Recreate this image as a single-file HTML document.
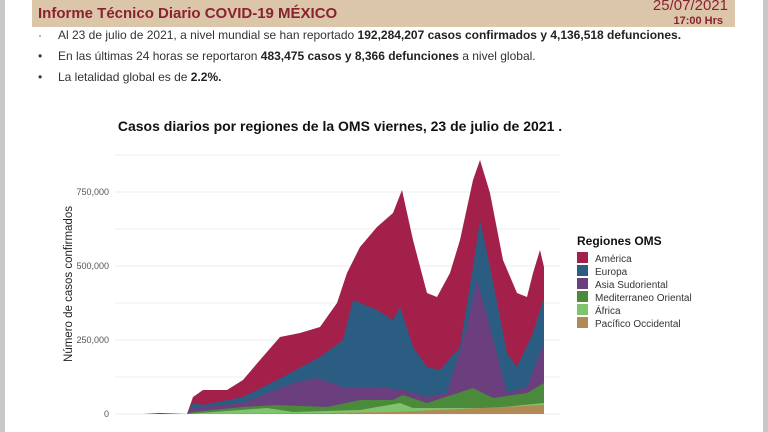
<!DOCTYPE html>
<html><head><meta charset="utf-8"><style>
body{margin:0;width:768px;height:432px;overflow:hidden;background:#fff;font-family:"Liberation Sans",sans-serif;position:relative}
.gl{position:absolute;top:0;left:0;width:5px;height:432px;background:#c8c8c8}
.gr{position:absolute;top:0;left:763px;width:5px;height:432px;background:#c8c8c8}
.band{position:absolute;left:32px;top:0;width:703px;height:27px;background:#dcc6a9}
.t1{position:absolute;left:38px;top:5px;font-size:15px;font-weight:bold;color:#8a2231}
.d1{position:absolute;right:40px;top:-3px;font-size:15px;color:#8a2231}
.d2{position:absolute;right:45px;top:15px;font-size:11px;color:#8a2231;font-weight:bold}
.b{position:absolute;left:38px;font-size:12px;color:#333;white-space:nowrap}
.b b{color:#222}
.b span{display:inline-block;width:20px}
</style></head><body>
<div class="gl"></div><div class="gr"></div>
<div class="band"></div>
<div class="t1">Informe Técnico Diario COVID-19 MÉXICO</div>
<div class="d1">25/07/2021</div>
<div class="d2">17:00 Hrs</div>
<div class="b" style="top:28px"><span>·</span>Al 23 de julio de 2021, a nivel mundial se han reportado <b>192,284,207 casos confirmados y 4,136,518 defunciones.</b></div>
<div class="b" style="top:49px"><span>•</span>En las últimas 24 horas se reportaron <b>483,475 casos y 8,366 defunciones</b> a nivel global.</div>
<div class="b" style="top:70px"><span>•</span>La letalidad global es de <b>2.2%.</b></div>
<svg width="768" height="432" style="position:absolute;left:0;top:0" font-family="Liberation Sans, sans-serif">
<text x="340" y="131" text-anchor="middle" font-size="14" font-weight="bold" fill="#111">Casos diarios por regiones de la OMS viernes, 23 de julio de 2021 .</text>
<g stroke="#eeeeee" stroke-width="1">
<line x1="115" y1="414" x2="560" y2="414"/><line x1="115" y1="377" x2="560" y2="377"/>
<line x1="115" y1="340" x2="560" y2="340"/><line x1="115" y1="303" x2="560" y2="303"/>
<line x1="115" y1="266" x2="560" y2="266"/><line x1="115" y1="229" x2="560" y2="229"/>
<line x1="115" y1="192" x2="560" y2="192"/><line x1="115" y1="155" x2="560" y2="155"/>
</g>
<g font-size="9" fill="#555" text-anchor="end">
<text x="109" y="417">0</text><text x="109" y="343">250,000</text><text x="109" y="269">500,000</text><text x="109" y="195">750,000</text>
</g>
<text transform="translate(72,284) rotate(-90)" text-anchor="middle" font-size="11.5" fill="#222">Número de casos confirmados</text>
<polygon fill="#a3204a" points="143,414 160,413 187,414 193,397 203,390 227,390 243,380 260,360 280,337 300,333 320,327 337,303 347,273 360,247 377,227 393,213 402,190 413,240 427,293 437,297 450,273 460,240 473,180 480,160 490,193 503,260 517,293 527,297 533,273 540,250 544,267 544,414"/>
<polygon fill="#2b5d83" points="187,414 193,403 203,405 243,397 277,380 320,357 343,340 353,300 377,310 393,320 400,307 413,347 427,367 440,370 460,347 473,267 480,220 490,267 507,353 517,367 533,333 544,297 544,414"/>
<polygon fill="#6b3f7d" points="187,414 193,408 243,403 293,383 317,378 343,387 377,387 403,390 427,397 447,393 467,327 477,280 490,327 507,393 527,387 544,343 544,414"/>
<polygon fill="#4a8a3a" points="187,414 193,412 243,407 277,405 327,407 360,400 393,400 403,395 427,403 473,388 493,398 527,393 544,383 544,414"/>
<polygon fill="#7fc46c" points="187,414 267,408 293,412 360,410 400,403 413,408 493,408 544,403 544,414"/>
<polygon fill="#b08a55" points="187,414 327,413 393,412 460,409 544,405 544,414"/>
<text x="577" y="245" font-size="12" font-weight="bold" fill="#111">Regiones OMS</text>
<g font-size="10" fill="#333">
<rect x="577" y="252" width="11" height="11" fill="#a3204a"/><text x="595" y="262">América</text>
<rect x="577" y="265" width="11" height="11" fill="#2b5d83"/><text x="595" y="275">Europa</text>
<rect x="577" y="278" width="11" height="11" fill="#6b3f7d"/><text x="595" y="288">Asia Sudoriental</text>
<rect x="577" y="291" width="11" height="11" fill="#4a8a3a"/><text x="595" y="301">Mediterraneo Oriental</text>
<rect x="577" y="304" width="11" height="11" fill="#7fc46c"/><text x="595" y="314">África</text>
<rect x="577" y="317" width="11" height="11" fill="#b08a55"/><text x="595" y="327">Pacífico Occidental</text>
</g>
</svg>
</body></html>
